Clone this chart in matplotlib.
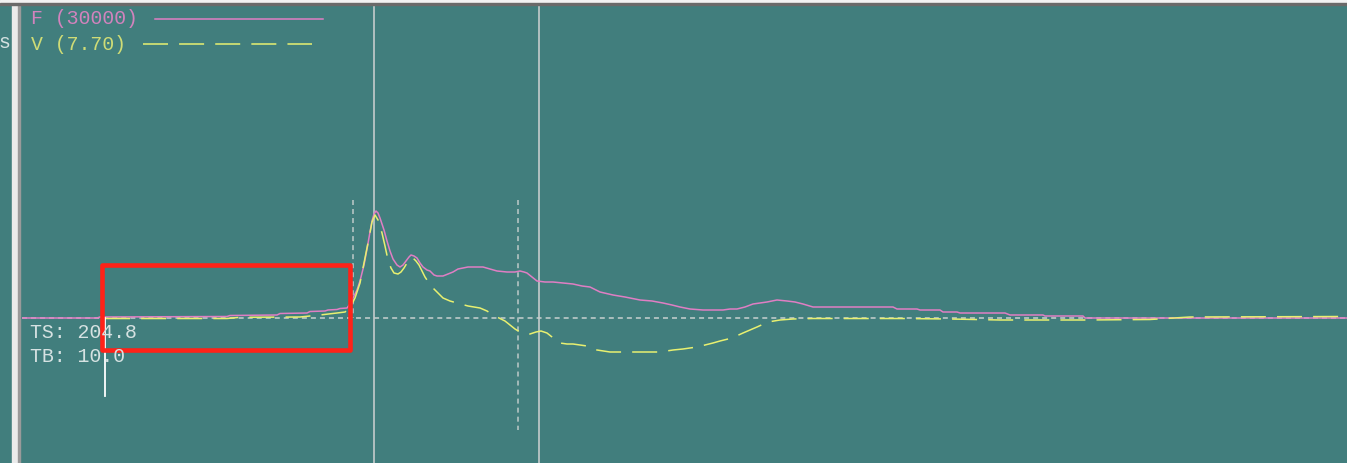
import matplotlib
matplotlib.use("Agg")
import matplotlib.pyplot as plt
from matplotlib.patches import Rectangle
from matplotlib.lines import Line2D

plt.rcParams['lines.scale_dashes'] = False

# ---- data (time in ms, amplitude in plot units; baseline = 0) ----
f_time = [0.0, 7.5, 7.8, 20.5, 20.8, 25.5, 25.8, 28.5, 28.8, 30.3, 30.6, 31.5, 31.8, 32.5, 32.8,
          33.1, 33.5, 33.8, 34.2, 34.5, 34.8, 35.0, 35.2, 35.4, 35.6, 35.8, 36.2, 36.5, 36.8,
          37.1, 37.5, 37.8, 38.1, 38.4, 38.7, 38.9, 39.2, 39.5, 39.8, 40.1, 40.5, 40.8, 41.2,
          41.5, 42.1, 42.6, 43.1, 43.6, 44.1, 44.6, 45.1, 46.1, 46.8, 47.5, 48.5, 49.3, 49.8,
          50.2, 50.5, 51.0, 51.5, 52.3, 53.1, 54.1, 55.1, 56.0, 56.8, 57.8, 59.1, 60.3, 61.8,
          63.0, 64.1, 65.0, 65.8, 66.8, 68.1, 70.1, 70.8, 71.5, 72.3, 73.1, 73.8, 74.5, 75.5,
          76.5, 77.3, 78.1, 79.1, 79.8, 87.1, 87.5, 89.5, 89.8, 91.8, 92.1, 93.5, 93.8, 98.3,
          98.8, 102.1, 102.3, 106.1, 106.3, 132.5]
f_vals = [0, 0, 1, 1.5, 2.5, 3, 4.5, 5, 6.5, 7, 8, 8.5, 9.5, 10, 14,
          20, 28, 37, 53, 69, 86, 97, 104, 107, 105, 100, 88, 77, 67,
          59, 53, 51, 53, 57, 61, 63, 62, 60, 55, 51, 48, 47, 43,
          42, 42, 44, 46, 49, 50, 51, 51, 51, 49, 47, 46, 46, 47,
          46, 45, 41, 37, 36, 36, 35, 34, 32, 31, 26, 23, 21, 18,
          17, 15, 13, 11, 9, 8, 8, 9, 9, 11, 14, 15, 16, 18,
          17, 16, 14, 11, 11, 11, 9, 9, 8, 8, 6, 6, 5, 5,
          3, 3, 2, 2, 0, 0]

v_time = [8.3, 20.5, 21.8, 27.8, 29.8, 31.5, 32.3, 32.8, 33.3, 33.8, 34.3, 34.7, 35.0, 35.3,
          35.6, 36.0, 36.3, 36.6, 36.9, 37.2, 37.6, 37.9, 38.2, 38.5, 38.8, 39.1, 39.4, 39.7,
          40.0, 40.3, 40.7, 41.1, 41.6, 42.1, 42.8, 43.5, 44.6, 45.8, 46.5, 47.1, 47.7, 48.3,
          48.8, 49.3, 49.8, 50.3, 50.8, 51.4, 51.9, 52.5, 53.0, 53.4, 53.8, 54.5, 55.1, 55.8,
          56.5, 57.5, 58.8, 63.8, 65.1, 66.1, 67.5, 69.1, 69.8, 71.0, 72.1, 72.8, 73.5, 74.6,
          75.8, 77.1, 79.1, 87.8, 92.8, 97.8, 106.3, 112.8, 116.8, 132.5]
v_vals = [-0.5, -0.5, 0.7, 1, 3, 5, 6, 10, 20, 35, 60, 80, 96, 103,
          98, 85, 72, 58, 50, 45, 44, 46, 50, 55, 60, 60, 57, 53,
          47, 41, 35, 30, 25, 20, 17, 15, 12, 10, 7, 3, 0, -3,
          -7, -11, -14, -16, -16, -14, -13, -15, -19, -23, -25, -26, -26, -27,
          -28, -32, -34, -34, -32, -31, -29, -25, -23, -20, -15, -12, -9, -4,
          -2, -1, -0.5, -0.5, -1, -2, -2, -1.5, 1, 1.5]

legend_labels = ["F (30000)", "V (7.70)"]
ts_label = "TS: 204.8"
tb_label = "TB: 10.0"
marker_times = [35.2, 51.7]          # solid vertical markers
cursor_times = [33.1, 49.6]          # dotted vertical cursors
ts_time = 8.3

# ---- styles ----
BG = "#417e7d"
PINK = "#e07ec4"
YELLOW = "#e8f070"
GRID = "#b4c4c3"
TXT = "#d6e2e2"
MONO = ["Liberation Mono", "DejaVu Sans Mono"]
FS = 14.3

W, H = 1347, 463
fig = plt.figure(figsize=(W / 100, H / 100), dpi=100)
fig.patch.set_facecolor(BG)

def fx(px):
    return px / W

def fy(py):
    return 1 - py / H

ax = fig.add_axes([fx(22), 0, fx(W) - fx(22), fy(5)])
ax.set_facecolor(BG)
ax.set_xlim(0, 132.5)
ax.set_ylim(-145, 313)
for s in ax.spines.values():
    s.set_visible(False)
ax.set_xticks([])
ax.set_yticks([])

# baseline (dashed)
ax.axhline(0, color=GRID, lw=1.3, dashes=(3.6, 2.9), zorder=1)
# solid vertical markers
for t in marker_times:
    ax.axvline(t, color="#c4cccc", lw=1.2, zorder=1)
# dotted cursors
ax.plot([cursor_times[0]] * 2, [118, 0], color=GRID, lw=1.2, dashes=(3.6, 2.9), zorder=1)
ax.plot([cursor_times[1]] * 2, [118, -112], color=GRID, lw=1.2, dashes=(3.6, 2.9), zorder=1)
# TS marker
ax.plot([ts_time] * 2, [0, -78], color="white", lw=1.3, zorder=4)

# curves
ax.plot(f_time, f_vals, color=PINK, lw=1.1, zorder=3)
ax.plot(v_time, v_vals, color=YELLOW, lw=1.1, dashes=(18, 8), zorder=3)

# red highlight box
ax.add_patch(Rectangle((8.0, -32), 24.8, 85, fill=False, edgecolor="#ff2218",
                       lw=3.3, joinstyle="round", zorder=5))

# texts
fig.text(fx(31), fy(19), legend_labels[0], color="#d283bd", family=MONO,
         fontsize=FS, va="center", ha="left")
fig.text(fx(31), fy(44), legend_labels[1], color="#cfdc76", family=MONO,
         fontsize=FS, va="center", ha="left")
fig.add_artist(Line2D([fx(155), fx(323)], [fy(19), fy(19)], color=PINK, lw=1.1))
fig.add_artist(Line2D([fx(143), fx(312)], [fy(44), fy(44)], color=YELLOW, lw=1.1,
                      dashes=(18, 8)))
fig.text(fx(30), fy(333), ts_label, color=TXT, family=MONO, fontsize=FS,
         va="center", ha="left", zorder=6)
fig.text(fx(30), fy(356), tb_label, color=TXT, family=MONO, fontsize=FS,
         va="center", ha="left", zorder=6)

# window chrome
fig.add_artist(Rectangle((fx(12), 0), fx(6), 1, transform=fig.transFigure,
                         color="#ebebeb", zorder=10))
fig.add_artist(Rectangle((fx(18), 0), fx(2), 1, transform=fig.transFigure,
                         color="#9a9a9a", zorder=10))
fig.add_artist(Rectangle((0, fy(3)), 1, 3 / H, transform=fig.transFigure,
                         color="#f2f2f2", zorder=10))
fig.add_artist(Rectangle((0, fy(5)), 1, 2 / H, transform=fig.transFigure,
                         color="#6a6a6a", zorder=10))
fig.text(fx(-2), fy(43), "s", color=TXT, family=MONO, fontsize=FS,
         va="center", ha="left")

fig.savefig("out.png", dpi=100, facecolor=BG)
